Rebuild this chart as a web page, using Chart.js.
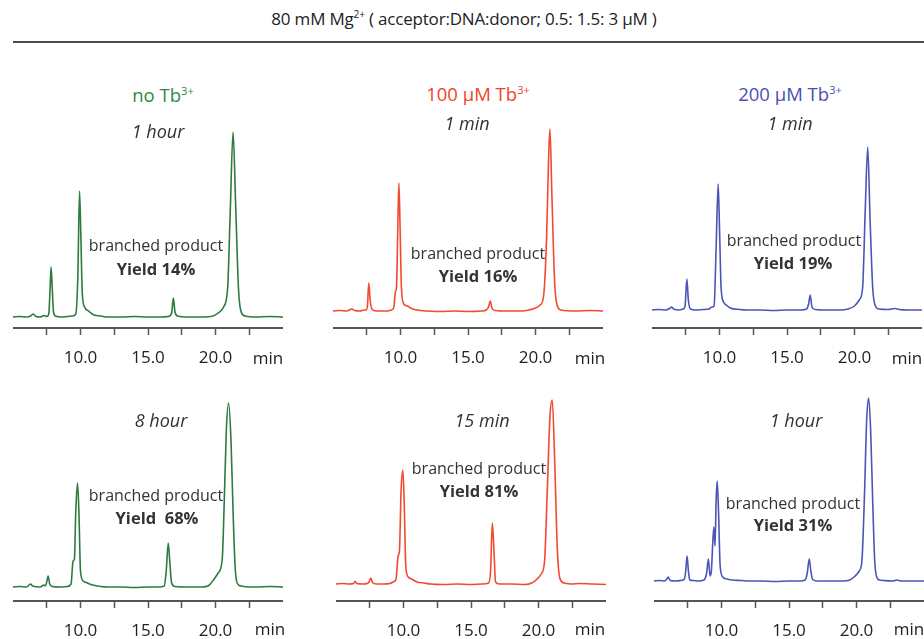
<!DOCTYPE html>
<html>
<head>
<meta charset="utf-8">
<script src="https://cdn.jsdelivr.net/npm/chart.js@4.4.1/dist/chart.umd.min.js"></script>
<style>
  body { margin:0; width:924px; height:639px; overflow:hidden; background:#fff; position:relative; font-family:"Open Sans", sans-serif; color:#333; }
  canvas { position:absolute; }
  .t { position:absolute; white-space:nowrap; transform:translate(-50%,-50%); }
  sup { font-size:0.6em; vertical-align:0.6em; line-height:0; }
  .head { font-size:17px; color:#222; letter-spacing:-0.2px; }
  .rule { position:absolute; left:13px; right:0; top:41px; height:2px; background:#4a4a4a; }
  .cond { font-size:18.5px; }
  .time { font-size:18px; font-style:italic; color:#333; }
  .prod { font-size:16px; color:#333; }
  .yield { font-size:16.5px; font-weight:bold; color:#333; }
  .unit { font-size:17px; color:#222; }
</style>
</head>
<body>
<div class="t head" style="left:464px;top:18px">80 mM Mg<sup>2+</sup> ( acceptor:DNA:donor; 0.5: 1.5: 3 µM )</div>
<div class="rule"></div>

<script>
// retention time (min) vs. absorbance (mAU), one trace per condition
const noTb_1h = [
  [5.0,11],[5.5,11.5],[6.0,11],[6.3,12],[6.5,14],[6.7,11.5],[7.0,11],[7.3,12.5],[7.5,11.5],
  [7.65,14],[7.75,40],[7.82,61],[7.9,42],[8.0,16],[8.15,12],[8.6,11],[9.0,11.5],[9.4,12],
  [9.65,14],[9.8,50],[9.93,137],[10.03,90],[10.13,35],[10.3,21],[10.6,17],[11.0,13],[11.5,12],
  [12.0,11],[13.0,11],[14.0,11.5],[15.0,11],[16.0,11],[16.5,11.5],[16.75,15],[16.88,30],[17.0,16],
  [17.2,12],[18.0,11],[19.0,11],[19.8,12],[20.2,15],[20.6,21],[20.9,40],[21.1,120],[21.3,196],
  [21.5,120],[21.7,40],[21.9,16],[22.2,12],[23.0,11],[24.0,11.5],[25.0,11]
];
const noTb_8h = [
  [5.0,14],[5.5,14.5],[6.0,14],[6.3,17],[6.45,15],[7.0,14],[7.3,16],[7.4,15],[7.5,19],
  [7.6,25],[7.72,17],[7.9,14.5],[8.5,14],[9.0,14.5],[9.3,17],[9.45,40],[9.55,42],[9.65,90],
  [9.78,118],[9.88,90],[10.0,30],[10.2,20],[10.5,18],[10.9,16],[11.5,14.5],[12.0,14],[13.0,14],
  [14.0,13.5],[15.0,14],[15.8,14],[16.2,15],[16.35,30],[16.5,58],[16.62,38],[16.75,18],[17.0,14.5],
  [18.0,14],[19.0,14],[19.5,15.5],[19.9,22],[20.2,28],[20.5,42],[20.65,100],[20.8,170],[20.97,198],
  [21.15,160],[21.3,90],[21.45,35],[21.6,18],[21.9,15],[22.5,14],[23.0,14],[24.0,14.5],[25.0,14]
];
const tb100_1min = [
  [5.0,17],[5.5,17.5],[6.0,17],[6.4,19],[6.6,17.5],[7.0,17],[7.3,18],[7.45,18],[7.55,22],
  [7.65,45],[7.75,28],[7.88,19],[8.2,17],[9.0,17],[9.3,18],[9.5,20],[9.62,36],[9.7,40],
  [9.8,100],[9.88,145],[9.97,100],[10.07,40],[10.25,24],[10.5,22],[10.9,19],[11.5,17.5],[12.0,17],
  [13.0,16.5],[14.0,17],[15.0,16.5],[16.0,17],[16.35,18],[16.52,21],[16.65,27],[16.77,20],[17.0,17.5],
  [18.0,17],[19.0,17],[19.5,18],[20.0,20],[20.35,23],[20.6,32],[20.82,90],[20.97,170],[21.07,199],
  [21.22,130],[21.42,45],[21.62,22],[21.9,18],[23.0,17],[24.0,17.5],[25.0,17]
];
const tb100_15min = [
  [5.0,17],[5.5,17.5],[6.0,17],[6.3,17.5],[6.4,19.5],[6.55,17.5],[7.0,17],[7.3,17.5],[7.45,19],
  [7.57,23],[7.7,18.5],[8.0,17],[8.5,17],[9.0,17.5],[9.3,19.5],[9.45,22],[9.6,45],[9.7,50],
  [9.82,110],[9.95,131],[10.05,100],[10.17,35],[10.35,24],[10.6,22],[11.0,19],[11.5,18],[12.0,17],
  [13.0,16.5],[14.0,17],[15.0,16.5],[15.8,17],[16.3,18],[16.45,30],[16.58,78],[16.7,50],[16.82,19],
  [17.1,17],[18.0,17],[19.0,16.5],[19.5,18],[19.9,22],[20.2,27],[20.45,40],[20.65,110],[20.85,185],
  [21.02,201],[21.2,140],[21.4,50],[21.6,22],[21.9,18],[22.5,17],[23.0,17.5],[24.0,17],[25.0,16.5]
];
const tb200_1min = [
  [5.0,18],[5.5,18.5],[6.0,18],[6.3,19.5],[6.45,21],[6.6,19],[7.0,18],[7.3,19],[7.45,22],
  [7.58,49],[7.7,27],[7.85,19],[8.2,18],[8.8,18.5],[9.2,19],[9.45,21],[9.6,22],[9.75,80],
  [9.9,144],[10.0,100],[10.12,40],[10.3,26],[10.5,23],[10.8,20],[11.5,18.5],[12.0,18],[13.0,18],
  [14.0,17.5],[15.0,18],[16.0,18],[16.45,19],[16.6,24],[16.72,33],[16.85,21],[17.1,18.5],[18.0,18],
  [19.0,18],[19.5,19],[20.0,22],[20.35,28],[20.6,40],[20.8,120],[20.98,181],[21.15,110],[21.35,40],
  [21.55,22],[21.8,19],[22.5,18.5],[23.0,19.5],[23.3,18.5],[24.0,18],[25.0,18]
];
const tb200_1h = [
  [5.0,20],[5.4,20.5],[5.8,20],[5.95,22],[6.05,24],[6.2,20.5],[6.6,20],[7.0,20.5],[7.25,22],
  [7.35,30],[7.45,45],[7.55,30],[7.65,21],[7.9,20.5],[8.3,20],[8.7,21],[8.9,28],[9.03,42],
  [9.15,25],[9.25,30],[9.43,74],[9.52,55],[9.6,100],[9.68,120],[9.78,90],[9.9,35],[10.1,24],
  [10.4,22],[10.8,21],[11.5,20.5],[12.0,20],[13.0,20],[14.0,19.5],[15.0,20],[15.8,20],[16.2,21],
  [16.35,28],[16.5,42],[16.62,30],[16.75,21.5],[17.1,20],[18.0,20],[19.0,20],[19.5,21],[19.9,25],
  [20.2,30],[20.4,40],[20.6,110],[20.75,180],[20.9,203],[21.05,170],[21.2,100],[21.35,40],[21.5,24],
  [21.7,21],[22.0,20.5],[22.7,20],[23.0,21],[23.3,20],[24.0,20],[25.0,20]
];

const conditions = ['no Tb<sup>3+</sup>', '100 µM Tb<sup>3+</sup>', '200 µM Tb<sup>3+</sup>'];
const times = ['1 hour', '1 min', '1 min', '8 hour', '15 min', '1 hour'];
const yields = ['Yield 14%', 'Yield 16%', 'Yield 19%', 'Yield&nbsp; 68%', 'Yield 81%', 'Yield 31%'];
const traces = [noTb_1h, tb100_1min, tb200_1min, noTb_8h, tb100_15min, tb200_1h];
const labelledTicks = [10, 15, 20];

const colors = ['#2e7b40', '#f24a30', '#4c55b5'];
const titleColors = ['#2f8a47', '#f0452a', '#4a50b2'];

// placement of each panel: canvas left/top, plus text anchors
const layout = [
  { left:13,  top:113, cond:[163,94],  time:[158,131], prod:[156,245], yld:[156,268], unit:[268,357] },
  { left:333, top:113, cond:[478,93],  time:[467,123], prod:[478,253], yld:[478,275], unit:[590,357] },
  { left:652, top:113, cond:[790,93],  time:[790,123], prod:[794,240], yld:[793,262], unit:[907,357] },
  { left:13,  top:386, time:[161,420], prod:[156,495], yld:[157,517], unit:[270,628] },
  { left:336, top:386, time:[482,420], prod:[479,468], yld:[479,490], unit:[590,628] },
  { left:654, top:386, time:[796,420], prod:[793,503], yld:[793,524], unit:[909,628] }
];

function addText(cls, xy, html, color) {
  const d = document.createElement('div');
  d.className = 't ' + cls;
  d.style.left = xy[0] + 'px';
  d.style.top = xy[1] + 'px';
  if (color) d.style.color = color;
  d.innerHTML = html;
  document.body.appendChild(d);
}

traces.forEach(function(trace, i) {
  const L = layout[i];
  const col = i % 3;
  const cv = document.createElement('canvas');
  cv.width = 270;
  cv.height = 255;
  cv.style.left = L.left + 'px';
  cv.style.top = L.top + 'px';
  document.body.appendChild(cv);

  new Chart(cv, {
    type: 'line',
    data: {
      datasets: [{
        data: trace.map(p => ({ x: p[0], y: p[1] })),
        borderColor: colors[col],
        borderWidth: 1.6,
        pointRadius: 0,
        cubicInterpolationMode: 'monotone'
      }]
    },
    options: {
      responsive: false,
      animation: false,
      layout: { padding: 0 },
      plugins: { legend: { display: false }, tooltip: { enabled: false } },
      scales: {
        x: {
          type: 'linear', min: 5, max: 25,
          afterBuildTicks: s => { s.ticks = s.ticks.filter(t => t.value > 5 && t.value < 25); },
          afterFit: s => { s.height = 40; },
          ticks: {
            stepSize: 2.5, autoSkip: false, maxRotation: 0, padding: 13,
            color: '#222', font: { family: 'Open Sans', size: 17 },
            callback: v => labelledTicks.includes(v) ? v.toFixed(1) : ''
          },
          grid: { drawOnChartArea: false, tickLength: 7, tickColor: '#555', tickWidth: 1.5 },
          border: { color: '#555', width: 2 }
        },
        y: { display: false, min: 0, max: 215 }
      }
    }
  });

  if (L.cond) addText('cond', L.cond, conditions[col], titleColors[col]);
  addText('time', L.time, times[i]);
  addText('prod', L.prod, 'branched product');
  addText('yield', L.yld, yields[i]);
  addText('unit', L.unit, 'min');
});
</script>
</body>
</html>
